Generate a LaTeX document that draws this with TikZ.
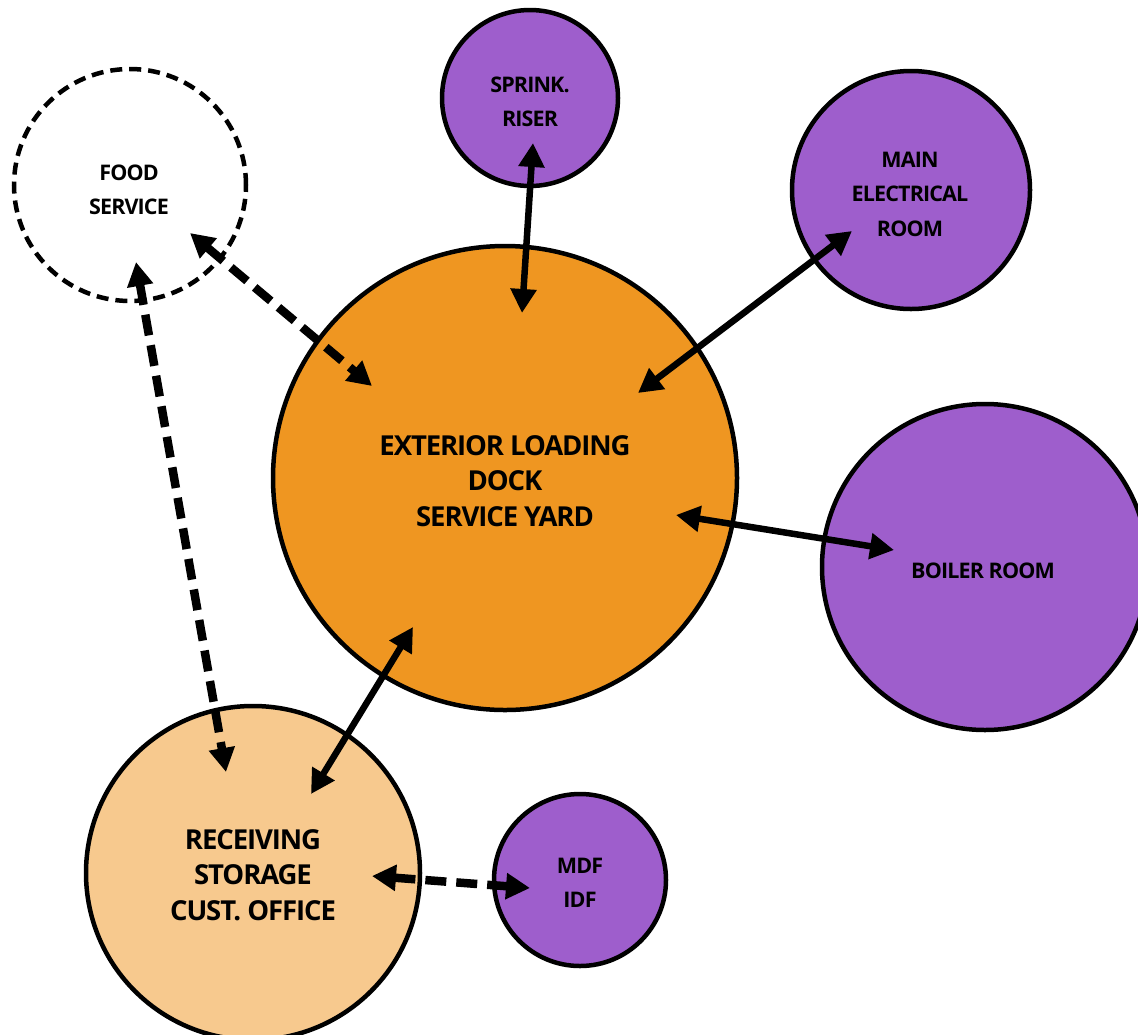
\documentclass[tikz,border=0pt]{standalone}
\usepackage{fontspec}
\setmainfont{Open Sans}
\usetikzlibrary{arrows.meta,calc}
\definecolor{dockorange}{RGB}{239,150,33}
\definecolor{roompurple}{RGB}{158,94,204}
\definecolor{recvorange}{RGB}{247,201,142}
\tikzset{
  room/.style={circle, draw=black, line width=4.5pt, inner sep=0pt},
  smalltext/.style={align=center, inner sep=0pt,
    font=\fontsize{21.5}{34.5}\selectfont\bfseries\addfontfeatures{LetterSpace=-4}},
  bigtext/.style={align=center, inner sep=0pt,
    font=\fontsize{27.5}{35.5}\selectfont\bfseries\addfontfeatures{LetterSpace=-4}},
  link/.style={line width=6.5pt, {Triangle[length=24pt,width=25pt]}-{Triangle[length=24pt,width=25pt]}},
  dlink/.style={link, line width=8.5pt, dash pattern=on 21pt off 10pt},
}
\begin{document}
\begin{tikzpicture}[x=1pt,y=-1pt]
\useasboundingbox (0,0) rectangle (1138,1034);
\node[room, minimum size=232pt, dash pattern=on 12pt off 7pt, fill=white] (food) at (130,185) {};
\node[room, minimum size=176pt, fill=roompurple] (sprink) at (530,98) {};
\node[room, minimum size=238pt, fill=roompurple] (elec) at (911,190) {};
\node[room, minimum size=464pt, fill=dockorange] (dock) at (505,478) {};
\node[room, minimum size=326pt, fill=roompurple] (boiler) at (985,567) {};
\node[room, minimum size=334pt, fill=recvorange] (recv) at (253,873) {};
\node[room, minimum size=172pt, fill=roompurple] (mdf) at (580,880) {};
% labels
\node[smalltext] (foodtext) at ($(food)+(-1,5)$) {FOOD\\SERVICE};
\node[smalltext] (sprinktext) at ($(sprink)+(0,4)$) {SPRINK.\\RISER};
\node[smalltext] (electext) at ($(elec)+(-1,4)$) {MAIN\\ELECTRICAL\\ROOM};
\node[bigtext] (docktext) at ($(dock)+(0,3)$) {EXTERIOR LOADING\\DOCK\\SERVICE YARD};
\node[smalltext] (boilertext) at ($(boiler)+(-2,4)$) {BOILER ROOM};
\node[bigtext] (recvtext) at ($(recv)+(0,2)$) {RECEIVING\\STORAGE\\CUST. OFFICE};
\node[smalltext] (mdftext) at ($(mdf)+(0,3)$) {MDF\\IDF};
% arrow end points
\coordinate (sprinkA) at (533,143);
\coordinate (sprinkB) at (522,313);
\coordinate (elecA) at (852,231);
\coordinate (elecB) at (638,393);
\coordinate (boilerA) at (676,515);
\coordinate (boilerB) at (894,550);
\coordinate (recvA) at (413,627);
\coordinate (recvB) at (311,794);
\coordinate (foodA) at (190,233);
\coordinate (foodB) at (372,386);
\coordinate (foodC) at (136,262);
\coordinate (foodD) at (226,772);
\coordinate (mdfA) at (372,876);
\coordinate (mdfB) at (530,888);
\draw[link] (sprinkA) -- (sprinkB);
\draw[link] (elecA) -- (elecB);
\draw[link] (boilerA) -- (boilerB);
\draw[link] (recvA) -- (recvB);
\draw[dlink] (foodA) -- (foodB);
\draw[dlink] (foodC) -- (foodD);
\draw[dlink] (mdfA) -- (mdfB);
\end{tikzpicture}
\end{document}
